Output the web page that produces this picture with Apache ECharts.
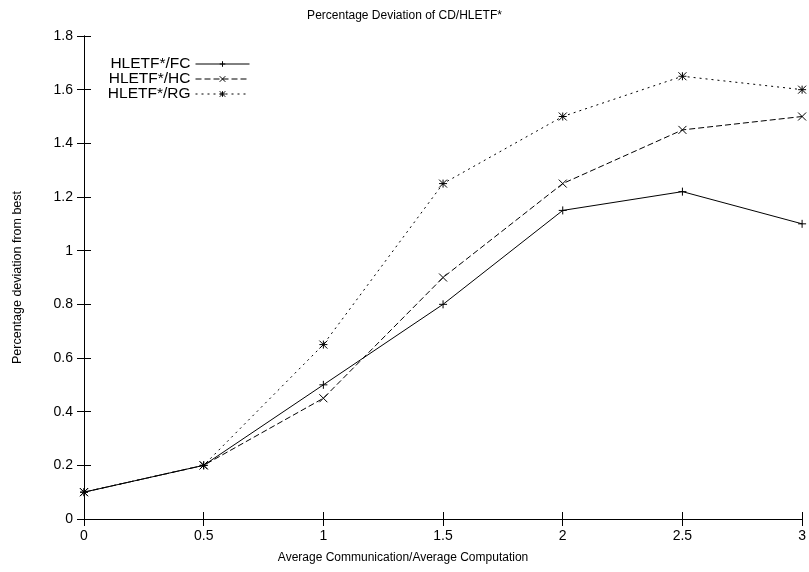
<!DOCTYPE html>
<html>
<head>
<meta charset="utf-8">
<script src="https://cdn.jsdelivr.net/npm/echarts@6/dist/echarts.min.js"></script>
<style>
  html, body { margin: 0; padding: 0; background: #fff; }
  #chart { width: 809px; height: 572px; }
</style>
</head>
<body>
<div id="chart"></div>
<script>
// x values: average communication / average computation
var xValues = [0, 0.5, 1, 1.5, 2, 2.5, 3];
var fcValues = [0.1, 0.2, 0.5, 0.8, 1.15, 1.22, 1.1];
var hcValues = [0.1, 0.2, 0.45, 0.9, 1.25, 1.45, 1.5];
var rgValues = [0.1, 0.2, 0.65, 1.25, 1.5, 1.65, 1.6];
var seriesNames = ['HLETF*/FC', 'HLETF*/HC', 'HLETF*/RG'];

var font = 'Liberation Sans, Arial, Helvetica, sans-serif';
var symPlus = 'path://M0,4 L8,4 M4,0 L4,8';
var symCross = 'path://M0,0 L8,8 M8,0 L0,8';
var symStar = 'path://M0,0 L8,8 M8,0 L0,8 M4,0 L4,8 M0,4 L8,4';

function pairs(ys) {
    var out = [];
    for (var i = 0; i < xValues.length; i++) {
        out.push([xValues[i], ys[i]]);
    }
    return out;
}

function makeSeries(name, ys, sym, dash) {
    return {
        name: name,
        type: 'line',
        data: pairs(ys),
        symbol: sym,
        symbolSize: 8,
        clip: false,
        lineStyle: { color: '#000', width: 1, type: dash },
        itemStyle: { color: '#000', borderColor: '#000', borderWidth: 1 },
        emphasis: { disabled: true }
    };
}

function makeLegend(name, top) {
    return {
        data: [name],
        right: 559,
        top: top,
        orient: 'vertical',
        align: 'right',
        padding: 0,
        itemWidth: 54,
        itemHeight: 7,
        selectedMode: false,
        lineStyle: { width: 1 },
        itemStyle: { borderWidth: 1 },
        textStyle: { fontFamily: font, fontSize: 15.5, color: '#000' }
    };
}

var axisCommon = {
    axisLine: { show: true, lineStyle: { color: '#000', width: 1 } },
    axisTick: { show: true, inside: true, length: 7, lineStyle: { color: '#000' } },
    splitLine: { show: false }
};

var chart = echarts.init(document.getElementById('chart'));
chart.setOption({
    animation: false,
    backgroundColor: '#fff',
    title: {
        text: 'Percentage Deviation of CD/HLETF*',
        left: 'center',
        top: 5,
        textStyle: { fontFamily: font, fontSize: 12, fontWeight: 'normal', color: '#000' }
    },
    legend: [
        makeLegend(seriesNames[0], 56),
        makeLegend(seriesNames[1], 71),
        makeLegend(seriesNames[2], 86)
    ],
    grid: { left: 84, right: 6, top: 36, bottom: 53 },
    xAxis: [
        Object.assign({}, axisCommon, {
            type: 'value', position: 'bottom', min: 0, max: 3, interval: 0.5,
            name: 'Average Communication/Average Computation',
            nameLocation: 'middle', nameGap: 33,
            nameTextStyle: { fontFamily: font, fontSize: 12, color: '#000', padding: [0, 80, 0, 0] },
            axisLabel: { fontFamily: font, fontSize: 14, color: '#000', margin: 10 }
        }),
        Object.assign({}, axisCommon, {
            type: 'value', position: 'top', min: 0, max: 3, interval: 0.5,
            axisLabel: { show: false }
        })
    ],
    yAxis: [
        Object.assign({}, axisCommon, {
            type: 'value', position: 'left', min: 0, max: 1.8, interval: 0.2,
            name: 'Percentage deviation from best',
            nameLocation: 'middle', nameGap: 60, nameRotate: 90,
            nameTextStyle: { fontFamily: font, fontSize: 12.5, color: '#000' },
            axisLabel: { fontFamily: font, fontSize: 14, color: '#000', margin: 11 }
        }),
        Object.assign({}, axisCommon, {
            type: 'value', position: 'right', min: 0, max: 1.8, interval: 0.2,
            axisLabel: { show: false }
        })
    ],
    series: [
        makeSeries(seriesNames[0], fcValues, symPlus, 'solid'),
        makeSeries(seriesNames[1], hcValues, symCross, [6, 3]),
        makeSeries(seriesNames[2], rgValues, symStar, [2, 4])
    ]
});
</script>
</body>
</html>
